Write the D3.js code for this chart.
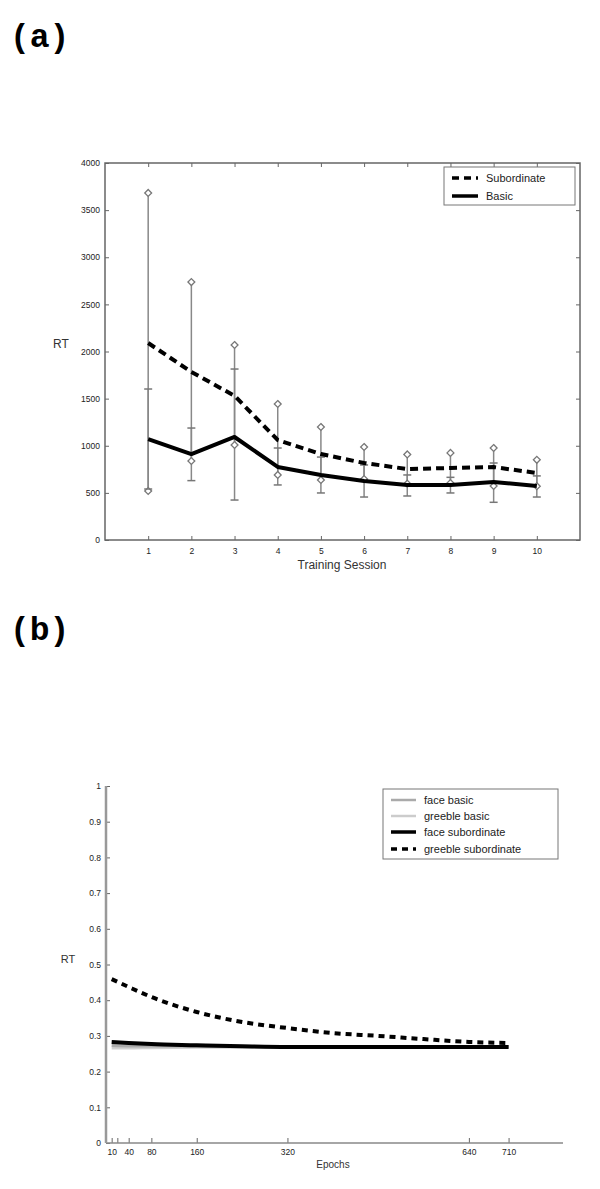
<!DOCTYPE html>
<html>
<head>
<meta charset="utf-8">
<script src="https://cdn.jsdelivr.net/npm/d3@7"></script>
<style>
body{margin:0;background:#fff;}
svg{display:block;font-family:"Liberation Sans",Arial,sans-serif;}
</style>
</head>
<body>
<svg id="c" width="600" height="1189"></svg>
<script>
// ---- Panel (a) data ----
const sessions = [1,2,3,4,5,6,7,8,9,10];
const subMean  = [2090,1783,1530,1061,912,817,753,764,774,711];
const subLow   = [520,838,1008,690,637,647,598,604,573,571];
const subHigh  = [3682,2737,2069,1443,1199,987,908,924,976,851];
const basMean  = [1071,912,1093,775,690,626,584,584,616,573];
const basLow   = [541,630,424,584,499,456,467,499,400,456];
const basHigh  = [1602,1188,1814,976,880,796,690,665,817,680];
const yTicksA  = [0,500,1000,1500,2000,2500,3000,3500,4000];

// ---- Panel (b) data ----
const epochs        = [10,40,80,160,240,320,400,480,560,640,710];
const greebleSub    = [0.459,0.437,0.409,0.367,0.339,0.322,0.308,0.300,0.291,0.283,0.280];
const faceSub       = [0.283,0.280,0.277,0.274,0.271,0.269,0.269,0.269,0.269,0.269,0.269];
const faceBasic     = [0.273,0.272,0.272,0.271,0.270,0.270,0.270,0.270,0.270,0.270,0.270];
const greebleBasic  = [0.266,0.266,0.267,0.268,0.268,0.268,0.268,0.268,0.268,0.268,0.268];
const xTicksB       = [10,20,40,80,160,320,640,710];
const yTicksB       = [0,0.1,0.2,0.3,0.4,0.5,0.6,0.7,0.8,0.9,1];

const svg = d3.select("#c");

// Panel labels
svg.append("text").attr("x",10).attr("y",47)
  .style("font-family","'Liberation Mono','DejaVu Sans Mono',monospace")
  .style("font-weight","bold").style("font-size","33px").text("(a)");
svg.append("text").attr("x",10).attr("y",640)
  .style("font-family","'Liberation Mono','DejaVu Sans Mono',monospace")
  .style("font-weight","bold").style("font-size","33px").text("(b)");

// ================= Panel (a) =================
const xA = d3.scaleLinear().domain([0,11]).range([105,580]);
const yA = d3.scaleLinear().domain([0,4000]).range([540,163]);
const gA = svg.append("g");

function styleAxis(g){
  g.select(".domain").remove();
  g.selectAll(".tick line").attr("stroke","#666").attr("stroke-width",1);
  g.selectAll(".tick text").attr("fill","#222").style("font-size","8.5px")
    .style("font-family","'Liberation Sans',Arial,sans-serif");
}

gA.append("g").attr("transform","translate(0,540)")
  .call(d3.axisBottom(xA).tickValues(sessions).tickSize(-4).tickPadding(8).tickFormat(d3.format("d")))
  .call(styleAxis);
gA.append("g").attr("transform","translate(0,163)")
  .call(d3.axisTop(xA).tickValues(sessions).tickSize(-4).tickFormat(""))
  .call(styleAxis);
gA.append("g").attr("transform","translate(105,0)")
  .call(d3.axisLeft(yA).tickValues(yTicksA).tickSize(-4).tickPadding(5).tickFormat(d3.format("d")))
  .call(styleAxis);
gA.append("g").attr("transform","translate(580,0)")
  .call(d3.axisRight(yA).tickValues(yTicksA).tickSize(-4).tickFormat(""))
  .call(styleAxis);
gA.append("rect").attr("x",xA(0)).attr("y",yA(4000))
  .attr("width",xA(11)-xA(0)).attr("height",yA(0)-yA(4000))
  .attr("fill","none").attr("stroke","#666").attr("stroke-width",1.5);

// error bars
sessions.forEach((s,i)=>{
  const x = xA(s);
  gA.append("line").attr("x1",x).attr("x2",x)
    .attr("y1",yA(subLow[i])).attr("y2",yA(subHigh[i]))
    .attr("stroke","#888").attr("stroke-width",1.5);
  gA.append("line").attr("x1",x).attr("x2",x)
    .attr("y1",yA(basLow[i])).attr("y2",yA(basHigh[i]))
    .attr("stroke","#888").attr("stroke-width",1.5);
  [subLow[i],subHigh[i]].forEach(v=>{
    gA.append("path").attr("transform",`translate(${x},${yA(v)})`)
      .attr("d",d3.symbol(d3.symbolDiamond2,30)())
      .attr("fill","#fff").attr("stroke","#777").attr("stroke-width",1.3);
  });
  [basLow[i],basHigh[i]].forEach(v=>{
    gA.append("line").attr("x1",x-4).attr("x2",x+4)
      .attr("y1",yA(v)).attr("y2",yA(v))
      .attr("stroke","#777").attr("stroke-width",1.5);
  });
});

const lineA = d3.line().x((d,i)=>xA(sessions[i])).y(d=>yA(d));
gA.append("path").datum(basMean).attr("d",lineA)
  .attr("fill","none").attr("stroke","#000").attr("stroke-width",4).attr("stroke-linejoin","round");
gA.append("path").datum(subMean).attr("d",lineA)
  .attr("fill","none").attr("stroke","#000").attr("stroke-width",4)
  .attr("stroke-dasharray","8,5");

gA.append("text").attr("x",342).attr("y",569).attr("text-anchor","middle")
  .attr("fill","#333").style("font-size","12px").text("Training Session");
gA.append("text").attr("x",61).attr("y",348).attr("text-anchor","middle")
  .attr("fill","#333").style("font-size","12px").text("RT");

// legend (a)
const lgA = gA.append("g");
lgA.append("rect").attr("x",444).attr("y",167).attr("width",131).attr("height",38)
  .attr("fill","#fff").attr("stroke","#777").attr("stroke-width",1);
[["Subordinate",178,true],["Basic",196,false]].forEach(([t,y,dash])=>{
  lgA.append("line").attr("x1",452).attr("x2",478).attr("y1",y).attr("y2",y)
    .attr("stroke","#000").attr("stroke-width",3.5)
    .attr("stroke-dasharray",dash?"7,5":null);
  lgA.append("text").attr("x",486).attr("y",y+4).attr("fill","#222")
    .style("font-size","11px").text(t);
});

// ================= Panel (b) =================
const xB = d3.scaleLinear().domain([0,806]).range([106,563]);
const yB = d3.scaleLinear().domain([0,1]).range([1143,786]);
const gB = svg.append("g");

gB.append("g").attr("transform","translate(0,1143)")
  .call(d3.axisBottom(xB).tickValues(xTicksB).tickSize(-5).tickPadding(6)
    .tickFormat(d=> d===20 ? "" : d3.format("d")(d)))
  .call(styleAxis);
gB.append("g").attr("transform","translate(106,0)")
  .call(d3.axisLeft(yB).tickValues(yTicksB).tickSize(-4).tickPadding(5).tickFormat(d=>d3.format("~g")(d)))
  .call(styleAxis);
gB.append("line").attr("x1",106).attr("x2",563).attr("y1",1143).attr("y2",1143)
  .attr("stroke","#888").attr("stroke-width",1.5);
gB.append("line").attr("x1",106).attr("x2",106).attr("y1",786).attr("y2",1143)
  .attr("stroke","#999").attr("stroke-width",2.5);

const lineB = d3.line().x((d,i)=>xB(epochs[i])).y(d=>yB(d)).curve(d3.curveMonotoneX);
gB.append("path").datum(greebleBasic).attr("d",lineB)
  .attr("fill","none").attr("stroke","#d0d0d0").attr("stroke-width",3);
gB.append("path").datum(faceBasic).attr("d",lineB)
  .attr("fill","none").attr("stroke","#aaa").attr("stroke-width",3);
gB.append("path").datum(faceSub).attr("d",lineB)
  .attr("fill","none").attr("stroke","#000").attr("stroke-width",4);
gB.append("path").datum(greebleSub).attr("d",lineB)
  .attr("fill","none").attr("stroke","#000").attr("stroke-width",4)
  .attr("stroke-dasharray","6,5");

gB.append("text").attr("x",333).attr("y",1168).attr("text-anchor","middle")
  .attr("fill","#333").style("font-size","10px").text("Epochs");
gB.append("text").attr("x",68).attr("y",963).attr("text-anchor","middle")
  .attr("fill","#333").style("font-size","11px").text("RT");

// legend (b)
const lgB = gB.append("g");
lgB.append("rect").attr("x",383).attr("y",789).attr("width",175).attr("height",70)
  .attr("fill","#fff").attr("stroke","#777").attr("stroke-width",1);
[["face basic",800,"#aaa",null,2.5],
 ["greeble basic",816,"#ccc",null,2.5],
 ["face subordinate",832,"#000",null,3.5],
 ["greeble subordinate",849,"#000","6,5",3.5]].forEach(([t,y,c,dash,w])=>{
  lgB.append("line").attr("x1",391).attr("x2",416).attr("y1",y).attr("y2",y)
    .attr("stroke",c).attr("stroke-width",w).attr("stroke-dasharray",dash);
  lgB.append("text").attr("x",424).attr("y",y+4).attr("fill","#222")
    .style("font-size","11px").text(t);
});
</script>
</body>
</html>
